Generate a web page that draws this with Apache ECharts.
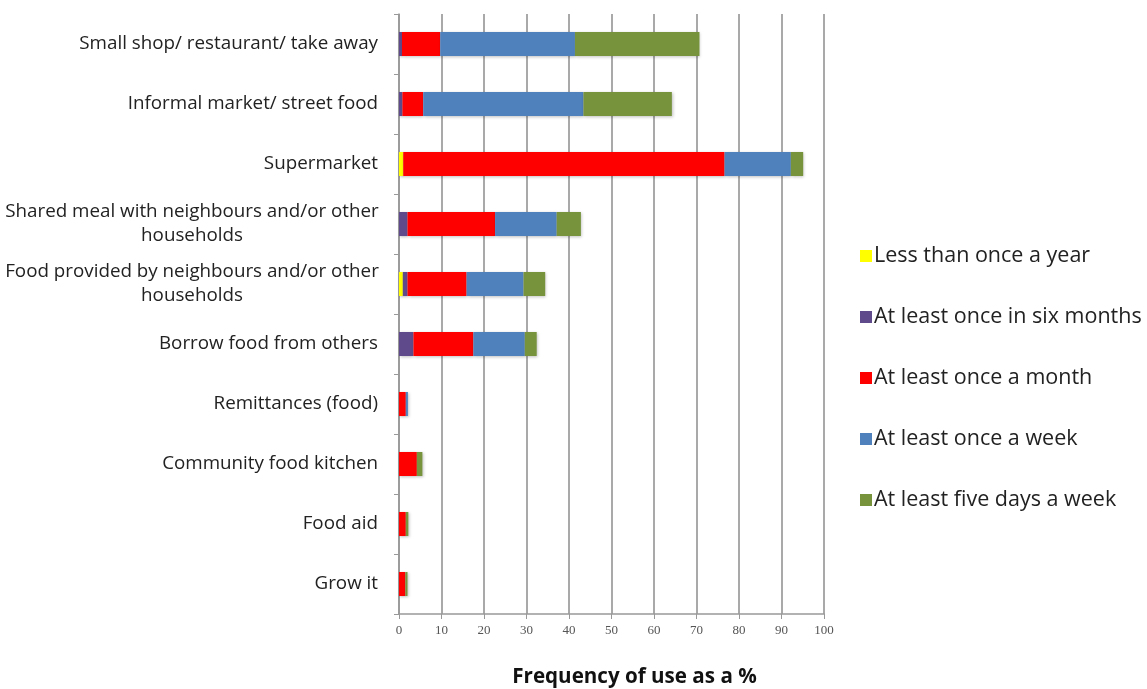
<!DOCTYPE html>
<html>
<head>
<meta charset="utf-8">
<script src="https://cdn.jsdelivr.net/npm/echarts@6/dist/echarts.min.js"></script>
<style>
  html, body { margin: 0; padding: 0; background: #fff; }
  #chart { width: 1147px; height: 689px; }
</style>
</head>
<body>
<div id="chart"></div>
<script>
  // categories, top to bottom
  var categories = [
    'Small shop/ restaurant/ take away',
    'Informal market/ street food',
    'Supermarket',
    'Shared meal with neighbours and/or other\nhouseholds',
    'Food provided by neighbours and/or other\nhouseholds',
    'Borrow food from others',
    'Remittances (food)',
    'Community food kitchen',
    'Food aid',
    'Grow it'
  ];
  var seriesNames = [
    'Less than once a year',
    'At least once in six months',
    'At least once a month',
    'At least once a week',
    'At least five days a week'
  ];
  var lessThanYear  = [0,   0,   1,    0,    0.9,  0,    0,   0,   0,   0];
  var sixMonths     = [0.7, 0.8, 0,    2,    1.1,  3.4,  0,   0,   0,   0];
  var onceMonth     = [9,   4.9, 75.6, 20.6, 13.9, 14.1, 1.6, 4.2, 1.6, 1.5];
  var onceWeek      = [31.7,37.7,15.6, 14.5, 13.4, 12.1, 0.5, 0,   0,   0];
  var fiveDays      = [29.3,20.8,2.9,  5.7,  5.1,  2.8,  0,   1.3, 0.6, 0.5];
  var xTicks = [0, 10, 20, 30, 40, 50, 60, 70, 80, 90, 100];

  var colors = ['#ffff00', '#5f4b8b', '#ff0000', '#4f81bd', '#77933c'];
  var values = [lessThanYear, sixMonths, onceMonth, onceWeek, fiveDays];

  var chart = echarts.init(document.getElementById('chart'));
  var option = {
    animation: false,
    color: colors,
    grid: { left: 399, right: 323, top: 14, bottom: 75, containLabel: false, outerBoundsMode: 'none' },
    legend: {
      orient: 'vertical',
      left: 855,
      top: 240,
      itemWidth: 12,
      itemHeight: 12,
      itemGap: 39,
      icon: 'rect',
      data: seriesNames,
      textStyle: { fontFamily: 'Open Sans', fontSize: 21.5, lineHeight: 22, color: '#222', padding: [0, 0, 0, -3] }
    },
    xAxis: {
      type: 'value',
      min: xTicks[0],
      max: xTicks[xTicks.length - 1],
      interval: 10,
      name: 'Frequency of use as a %',
      nameLocation: 'middle',
      nameGap: 53,
      nameTextStyle: { fontFamily: 'Open Sans', fontWeight: 'bold', fontSize: 20.6, color: '#111', padding: [0, 0, 0, 46] },
      axisLine: { show: true, lineStyle: { color: '#999', width: 1.5 } },
      axisTick: { show: true, length: 5, lineStyle: { color: '#999' } },
      axisLabel: { fontFamily: 'Liberation Serif', fontSize: 13, color: '#555', margin: 10 },
      splitLine: { show: true, lineStyle: { color: '#8c8c8c', width: 1.5 } }
    },
    yAxis: {
      type: 'category',
      inverse: true,
      data: categories,
      axisLine: { show: true, lineStyle: { color: '#999', width: 1.5 } },
      axisTick: { show: true, length: 5, lineStyle: { color: '#999' } },
      axisLabel: {
        fontFamily: 'Open Sans', fontSize: 18.8, color: '#222', margin: 21,
        formatter: function (v) {
          if (v.indexOf('\n') < 0) return v;
          return v.split('\n').map(function (s) { return '{c|' + s + '}'; }).join('\n');
        },
        rich: {
          c: { fontFamily: 'Open Sans', fontSize: 18.8, color: '#222', width: 372, align: 'center', lineHeight: 24 }
        }
      },
      splitLine: { show: false }
    },
    series: seriesNames.map(function (name, i) {
      return {
        name: name,
        type: 'bar',
        stack: 'total',
        barWidth: 24,
        data: values[i],
        itemStyle: { shadowColor: 'rgba(0,0,0,0.25)', shadowBlur: 3, shadowOffsetX: 1, shadowOffsetY: 1 }
      };
    })
  };
  chart.setOption(option);
</script>
</body>
</html>
